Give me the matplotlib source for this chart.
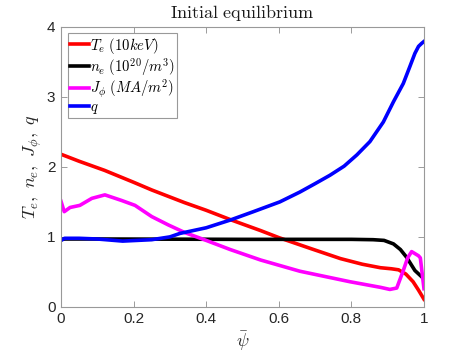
import matplotlib
matplotlib.use("Agg")
import matplotlib.pyplot as plt

plt.rcParams['font.family'] = ['Liberation Sans', 'DejaVu Sans']
plt.rcParams['mathtext.fontset'] = 'cm'

psi_Te = [0, 0.05, 0.12, 0.2, 0.25, 0.34, 0.4, 0.47, 0.55, 0.6, 0.69, 0.77, 0.83, 0.88, 0.91, 0.93, 0.95, 0.97, 0.985, 1.0]
Te = [2.18, 2.08, 1.95, 1.78, 1.67, 1.49, 1.38, 1.24, 1.09, 0.99, 0.83, 0.69, 0.61, 0.56, 0.545, 0.53, 0.47, 0.36, 0.24, 0.11]

psi_ne = [0, 0.01, 0.1, 0.5, 0.8, 0.86, 0.89, 0.916, 0.935, 0.952, 0.975, 1.0]
ne = [0.96, 0.97, 0.97, 0.965, 0.965, 0.96, 0.95, 0.90, 0.82, 0.71, 0.52, 0.40]

psi_J = [0, 0.009, 0.025, 0.052, 0.085, 0.121, 0.167, 0.204, 0.25, 0.296, 0.342, 0.4, 0.466,
         0.55, 0.658, 0.796, 0.88, 0.906, 0.925, 0.943, 0.955, 0.966, 0.985, 0.99, 1.0]
J = [1.51, 1.36, 1.42, 1.45, 1.55, 1.60, 1.52, 1.45, 1.29, 1.17, 1.06, 0.95, 0.82,
     0.67, 0.51, 0.36, 0.28, 0.25, 0.27, 0.52, 0.70, 0.79, 0.73, 0.70, 0.26]

psi_q = [0, 0.01, 0.05, 0.1, 0.17, 0.25, 0.3, 0.328, 0.4, 0.466, 0.53, 0.603, 0.658, 0.70,
         0.741, 0.78, 0.815, 0.851, 0.888, 0.916, 0.943, 0.961, 0.975, 0.985, 0.993, 1.0]
q = [0.95, 0.98, 0.98, 0.97, 0.94, 0.96, 1.0, 1.05, 1.13, 1.24, 1.36, 1.50, 1.64, 1.76,
     1.88, 2.01, 2.17, 2.36, 2.64, 2.93, 3.19, 3.43, 3.62, 3.72, 3.76, 3.79]

labels = [r'$T_e\ (10keV)$', r'$n_e\ (10^{20}/m^3)$', r'$J_\phi\ (MA/m^2)$', r'$q$']
xticks = [0, 0.2, 0.4, 0.6, 0.8, 1]
yticks = [0, 1, 2, 3, 4]

fig = plt.figure(figsize=(4.69, 3.52), dpi=100)
ax = fig.add_axes([0.130, 0.128, 0.774, 0.796])
lw = 2.6
ax.plot(psi_Te, Te, color='#ff0000', lw=lw, label=labels[0])
ax.plot(psi_ne, ne, color='#000000', lw=lw, label=labels[1])
ax.plot(psi_J, J, color='#ff00ff', lw=lw, label=labels[2])
ax.plot(psi_q, q, color='#0000ff', lw=lw, label=labels[3])

ax.set_xlim(0, 1)
ax.set_ylim(0, 4)
ax.set_xticks(xticks)
ax.set_xticklabels(['0', '0.2', '0.4', '0.6', '0.8', '1'])
ax.set_yticks(yticks)
ax.tick_params(direction='in', top=True, right=True, length=4, width=0.6,
               color='0.55', labelsize=11, labelcolor='0.15', pad=4)
for s in ax.spines.values():
    s.set_color('0.6')
    s.set_linewidth(0.8)

ax.set_title(r'$\mathrm{Initial\ equilibrium}$', fontsize=13, color='0.1', pad=6)
ax.set_xlabel(r'$\bar{\psi}$', fontsize=13, color='0.15', labelpad=2)
ax.set_ylabel(r'$T_e,\ n_e,\ J_\phi,\ q$', fontsize=13, color='0.15', labelpad=2)

leg = ax.legend(loc='upper left', fontsize=10.6, handlelength=1.3, handletextpad=0.1,
                borderpad=0.15, labelspacing=0.0, fancybox=False, framealpha=1,
                borderaxespad=0.45)
leg.get_frame().set_edgecolor('0.6')
leg.get_frame().set_linewidth(0.8)

fig.savefig('out.png', dpi=100)
